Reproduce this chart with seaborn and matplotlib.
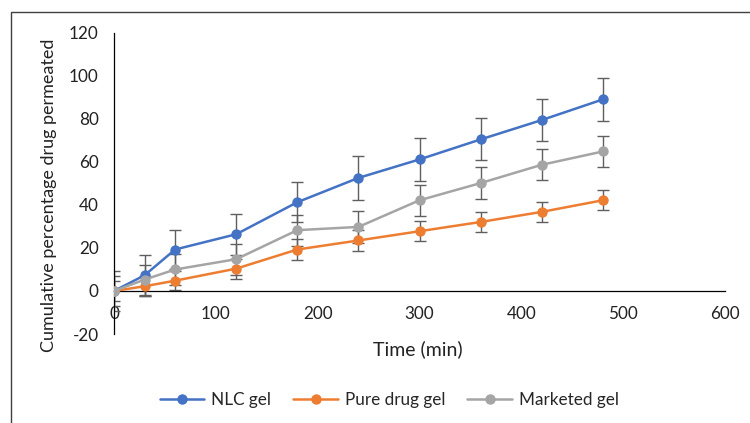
import pandas as pd
import matplotlib
matplotlib.use("Agg")
import matplotlib.pyplot as plt
import matplotlib.patches as patches
import seaborn as sns

# values
time_min = [0, 30, 60, 120, 180, 240, 300, 360, 420, 480]
nlc_gel = [0, 7.3, 19.3, 26.4, 41.3, 52.6, 61.2, 70.5, 79.5, 89.1]
nlc_err = [9.5, 9.5, 9.3, 9.5, 9.4, 10.2, 10.0, 9.8, 9.9, 9.9]
pure_gel = [0, 2.2, 4.8, 10.4, 19.3, 23.5, 27.8, 32.1, 36.8, 42.2]
pure_err = [4.5, 4.7, 4.5, 4.6, 5.0, 4.9, 4.7, 4.5, 4.5, 4.7]
market_gel = [0, 5.3, 10.0, 14.8, 28.3, 29.8, 42.2, 50.2, 58.7, 64.9]
market_err = [7.0, 7.0, 7.2, 7.2, 7.2, 7.3, 7.3, 7.3, 7.2, 7.1]

series = [
    ("NLC gel", nlc_gel, nlc_err, "#4472C4"),
    ("Pure drug gel", pure_gel, pure_err, "#ED7D31"),
    ("Marketed gel", market_gel, market_err, "#A5A5A5"),
]

sns.set_style("white")
plt.rcParams["font.family"] = ["Lato", "DejaVu Sans"]
plt.rcParams["axes.unicode_minus"] = False

fig = plt.figure(figsize=(7.5, 4.23), dpi=100)
ax = fig.add_axes([0.152, 0.2104, 0.8147, 0.7116])

for name, vals, err, col in series:
    df = pd.DataFrame({"Time": time_min, "Value": vals})
    ax.errorbar(df["Time"], df["Value"], yerr=err, fmt="none", ecolor="#5f5f5f",
                elinewidth=1, capsize=4, capthick=1, zorder=1)
    sns.lineplot(data=df, x="Time", y="Value", color=col, marker="o", markersize=7.5,
                 markeredgewidth=0, linewidth=1.8, label=name, ax=ax, zorder=3)

ax.set_xlim(0, 600)
ax.set_ylim(-20, 120)
ax.set_xticks(range(0, 601, 100))
ax.set_yticks(range(-20, 121, 20))
ax.spines["top"].set_visible(False)
ax.spines["right"].set_visible(False)
ax.spines["bottom"].set_position(("data", 0))
for s in ["left", "bottom"]:
    ax.spines[s].set_color("black")
    ax.spines[s].set_linewidth(0.9)
ax.tick_params(axis="both", length=0, labelsize=12.3, colors="#222222")
ax.tick_params(axis="y", pad=11)
ax.tick_params(axis="x", pad=11)
ax.set_xlabel("")
ax.set_ylabel("Cumulative percentage drug permeated", fontsize=13, color="#222222")
ax.yaxis.set_label_coords(-0.094, 0.46)
fig.text(0.557, 0.175, "Time (min)", ha="center", va="center", fontsize=14, color="#222222")

handles, labels = ax.get_legend_handles_labels()
ax.get_legend().remove()
fig.legend(handles, labels, loc="center", bbox_to_anchor=(0.519, 0.054), ncol=3,
           frameon=False, fontsize=12.3, handlelength=2.6, columnspacing=1.3, handletextpad=0.4)

fig.patches.append(patches.Rectangle((0.014, -0.1), 1.2, 1.0716, transform=fig.transFigure,
                                     fill=False, edgecolor="#404040", linewidth=1))

fig.savefig("out.png", dpi=100)
